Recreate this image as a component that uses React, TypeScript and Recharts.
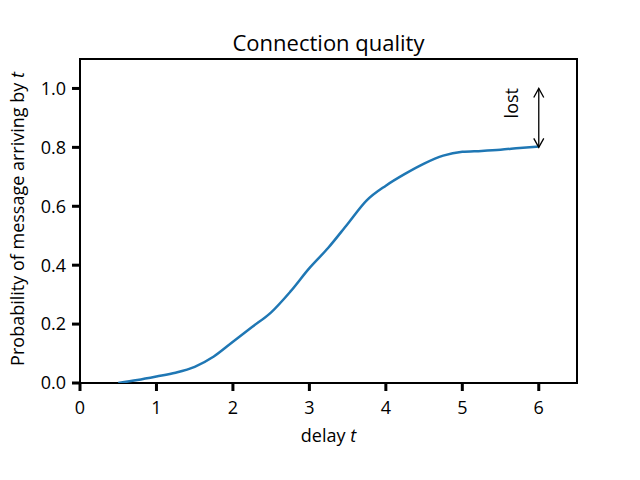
import React from 'react';
import {
  LineChart,
  Line,
  XAxis,
  YAxis,
  ReferenceArea,
  ReferenceLine,
} from 'recharts';

const delays = [0.5, 0.75, 1, 1.25, 1.5, 1.75, 2, 2.25, 2.5, 2.75, 3, 3.25, 3.5, 3.75, 4, 4.25, 4.5, 4.75, 5, 5.25, 5.5, 5.75, 6];
const probability = [0, 0.01, 0.022, 0.035, 0.055, 0.09, 0.14, 0.19, 0.24, 0.31, 0.39, 0.46, 0.54, 0.62, 0.67, 0.71, 0.745, 0.772, 0.785, 0.788, 0.792, 0.798, 0.803];
const xTicks = [0, 1, 2, 3, 4, 5, 6];
const yTicks = [0, 0.2, 0.4, 0.6, 0.8, 1.0];

const data = delays.map((t, i) => ({ t, p: probability[i] }));

const FONT = '"Open Sans", "DejaVu Sans", sans-serif';
const TICK_LEN = 8;

// thick outward tick marks, placed through the chart scales
const XMark = (props: any) => {
  const { x1, y1 } = props;
  return <rect x={x1 - 1.5} y={y1} width={3} height={TICK_LEN} fill="#000" />;
};

const YMark = (props: any) => {
  const { x1, y1 } = props;
  return <rect x={x1 - TICK_LEN} y={y1 - 1.5} width={TICK_LEN} height={3} fill="#000" />;
};

const DoubleArrow = (props: any) => {
  const { x1, y1, x2, y2 } = props;
  const top = Math.min(y1, y2);
  const bot = Math.max(y1, y2);
  const x = x1;
  return (
    <g stroke="#000" strokeWidth={1.3} fill="none">
      <line x1={x} y1={top} x2={x} y2={bot} />
      <path d={`M${x - 5},${top + 9} L${x},${top} L${x + 5},${top + 9}`} />
      <path d={`M${x - 5},${bot - 9} L${x},${bot} L${x + 5},${bot - 9}`} />
    </g>
  );
};

const LostText = (props: any) => {
  const { x1, y1, y2 } = props;
  const cy = (y1 + y2) / 2;
  return (
    <text x={x1} y={cy} transform={`rotate(-90 ${x1} ${cy})`} textAnchor="middle" dominantBaseline="central" fontSize={18} fontFamily={FONT} fill="#000">
      lost
    </text>
  );
};

export default function App() {
  return (
    <div style={{ position: 'absolute', left: 0, top: 0, width: 640, height: 480, background: '#fff', fontFamily: FONT }}>
      <div style={{ position: 'absolute', top: 27, left: 80, width: 497, textAlign: 'center', fontSize: 22, color: '#000' }}>
        Connection quality
      </div>
      <LineChart width={640} height={480} data={data} margin={{ top: 59, right: 63, bottom: 37, left: 20 }}>
        <XAxis
          dataKey="t"
          type="number"
          domain={[0, 6.5]}
          ticks={xTicks}
          allowDataOverflow
          axisLine={false}
          tickLine={false}
          tickSize={8}
          tickMargin={10}
          tick={{ fill: '#000', fontSize: 18, fontFamily: FONT }}
          height={60}
          label={{
            content: ({ viewBox }: any) => (
              <text x={viewBox.x + viewBox.width / 2} y={viewBox.y + 59} textAnchor="middle" fontSize={18} fontFamily={FONT} fill="#000">
                delay <tspan fontStyle="italic">t</tspan>
              </text>
            ),
          }}
        />
        <YAxis
          type="number"
          domain={[0, 1.1]}
          ticks={yTicks}
          allowDataOverflow
          axisLine={false}
          tickLine={false}
          tickSize={8}
          tickMargin={6}
          tick={{ fill: '#000', fontSize: 18, fontFamily: FONT }}
          tickFormatter={(v: number) => v.toFixed(1)}
          width={60}
          label={{
            content: ({ viewBox }: any) => {
              const cx = 17;
              const cy = viewBox.y + viewBox.height / 2 - 2;
              return (
                <text x={cx} y={cy} transform={`rotate(-90 ${cx} ${cy})`} textAnchor="middle" dominantBaseline="central" fontSize={18} fontFamily={FONT} fill="#000">
                  Probability of message arriving by <tspan fontStyle="italic">t</tspan>
                </text>
              );
            },
          }}
        />
        <ReferenceArea x1={0} x2={6.5} y1={0} y2={1.1} fill="none" stroke="#000" strokeWidth={2} />
        <Line type="monotone" dataKey="p" stroke="#1f77b4" strokeWidth={2.5} dot={false} isAnimationActive={false} />
        {xTicks.map((t) => (
          <ReferenceLine key={`xm-${t}`} segment={[{ x: t, y: 0 }, { x: t, y: 0 }]} ifOverflow="visible" shape={<XMark />} />
        ))}
        {yTicks.map((v) => (
          <ReferenceLine key={`ym-${v}`} segment={[{ x: 0, y: v }, { x: 0, y: v }]} ifOverflow="visible" shape={<YMark />} />
        ))}
        <ReferenceLine segment={[{ x: 6, y: 0.8 }, { x: 6, y: 1.0 }]} shape={<DoubleArrow />} />
        <ReferenceLine segment={[{ x: 5.64, y: 0.86 }, { x: 5.64, y: 1.04 }]} shape={<LostText />} />
      </LineChart>
    </div>
  );
}
